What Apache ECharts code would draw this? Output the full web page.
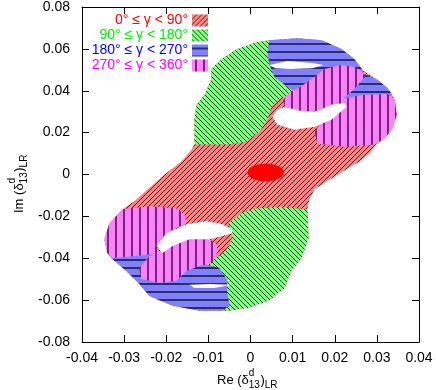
<!DOCTYPE html>
<html lang="en">
<head>
    <meta charset="UTF-8">
    <title>delta13 LR</title>
    <script src="https://cdn.jsdelivr.net/npm/echarts@6/dist/echarts.min.js"></script>
    <style>
        html, body { margin: 0; padding: 0; background: #fff; }
    </style>
</head>
<body>
    <div id="pic1" style="width:436px;height:390px;"></div>
    <script>
        // axis ranges (ticks every 0.01 / 0.02)
        var xRange = [-0.04, 0.04];
        var yRange = [-0.08, 0.08];
        var xStep = 0.01;
        var yStep = 0.02;

        var legendLabels = ['0° ≤ γ < 90°', '90° ≤ γ < 180°', '180° ≤ γ < 270°', '270° ≤ γ < 360°'];

        // region outlines, [Re, Im]
        var redBase = [[0.0014,0.0632],[0.0045,0.0641],[0.0112,0.0651],[0.0169,0.0641],[0.0216,0.0599],[0.0247,0.0551],
            [0.0266,0.0499],[0.0302,0.0451],[0.0325,0.0413],[0.0342,0.0361],[0.0347,0.0285],[0.0337,0.0219],[0.0318,0.0171],
            [0.0299,0.0147],[0.0283,0.0100],[0.0259,0.0062],[0.0219,0.0014],[0.0181,-0.0033],[0.0152,-0.0071],[0.0140,-0.0119],
            [0.0135,-0.0166],[0.0138,-0.0304],[0.0121,-0.0399],[0.0097,-0.0461],[0.0081,-0.0542],[0.0043,-0.0603],[-0.0005,-0.0637],
            [-0.0052,-0.0651],[-0.0121,-0.0651],[-0.0185,-0.0627],[-0.0240,-0.0580],[-0.0264,-0.0523],[-0.0295,-0.0461],
            [-0.0328,-0.0404],[-0.0340,-0.0375],[-0.0347,-0.0309],[-0.0335,-0.0233],[-0.0304,-0.0166],[-0.0276,-0.0128],
            [-0.0242,-0.0067],[-0.0204,0],[-0.0164,0.0062],[-0.0140,0.0119],[-0.0133,0.0143],[-0.0133,0.0266],[-0.0128,0.0333],
            [-0.0109,0.0380],[-0.0093,0.0456],[-0.0093,0.0504],[-0.0069,0.0551],[-0.0031,0.0599]];
        var greenUpper = [[-0.0133,0.0143],[-0.0133,0.0266],[-0.0128,0.0333],[-0.0109,0.0380],[-0.0093,0.0456],[-0.0093,0.0504],
            [-0.0069,0.0551],[-0.0031,0.0599],[0.0014,0.0632],[0.0045,0.0641],[0.0040,0.0584],[0.0045,0.0523],[0.0057,0.0466],
            [0.0088,0.0418],[0.0105,0.0394],[0.0069,0.0361],[0.0050,0.0323],[0.0040,0.0261],[0.0021,0.0204],[-0.0010,0.0157],
            [-0.0050,0.0143]];
        var blueUpper = [[0.0045,0.0641],[0.0112,0.0651],[0.0169,0.0641],[0.0216,0.0599],[0.0247,0.0551],[0.0266,0.0499],
            [0.0266,0.0466],[0.0211,0.0442],[0.0112,0.0394],[0.0088,0.0418],[0.0057,0.0466],[0.0045,0.0523],[0.0040,0.0584]];
        var blueRight = [[0.0219,0.0480],[0.0271,0.0480],[0.0302,0.0451],[0.0325,0.0413],[0.0337,0.0380],[0.0306,0.0371],
            [0.0264,0.0375],[0.0219,0.0352]];
        var magentaUpper = [[0.0093,0.0394],[0.0112,0.0409],[0.0145,0.0456],[0.0176,0.0504],[0.0216,0.0523],[0.0247,0.0513],
            [0.0266,0.0489],[0.0271,0.0466],[0.0247,0.0409],[0.0219,0.0361],[0.0223,0.0337],[0.0192,0.0333],[0.0152,0.0299],
            [0.0116,0.0304],[0.0081,0.0323],[0.0078,0.0356]];
        var magentaRight = [[0.0219,0.0361],[0.0264,0.0380],[0.0325,0.0385],[0.0342,0.0361],[0.0347,0.0285],[0.0337,0.0219],
            [0.0318,0.0171],[0.0295,0.0143],[0.0223,0.0133],[0.0159,0.0147],[0.0152,0.0204],[0.0169,0.0252],[0.0200,0.0299]];
        var holeSlitUpper = [[0.0045,0.0523],[0.0088,0.0542],[0.0147,0.0532],[0.0173,0.0523],[0.0147,0.0508],[0.0093,0.0504],
            [0.0059,0.0508]];
        var holeUpper = [[0.0052,0.0276],[0.0064,0.0309],[0.0081,0.0323],[0.0116,0.0304],[0.0152,0.0299],[0.0192,0.0333],
            [0.0223,0.0342],[0.0228,0.0323],[0.0192,0.0261],[0.0152,0.0228],[0.0105,0.0214],[0.0064,0.0238]];
        var greenLower = [[-0.0052,-0.0233],[-0.0021,-0.0185],[0.0010,-0.0162],[0.0069,-0.0157],[0.0135,-0.0166],[0.0138,-0.0304],
            [0.0121,-0.0399],[0.0097,-0.0461],[0.0081,-0.0542],[0.0043,-0.0603],[-0.0005,-0.0637],[-0.0052,-0.0651],
            [-0.0067,-0.0651],[-0.0050,-0.0627],[-0.0055,-0.0565],[-0.0057,-0.0499],[-0.0074,-0.0447],[-0.0105,-0.0428],
            [-0.0093,-0.0404],[-0.0069,-0.0385],[-0.0050,-0.0342],[-0.0043,-0.0295]];
        var blueLower = [[-0.0340,-0.0375],[-0.0280,-0.0385],[-0.0233,-0.0375],[-0.0204,-0.0375],[-0.0121,-0.0423],[-0.0074,-0.0447],
            [-0.0057,-0.0499],[-0.0055,-0.0565],[-0.0050,-0.0627],[-0.0067,-0.0651],[-0.0121,-0.0651],[-0.0185,-0.0627],
            [-0.0240,-0.0580],[-0.0264,-0.0523],[-0.0295,-0.0461],[-0.0328,-0.0404]];
        var magentaLeft = [[-0.0304,-0.0166],[-0.0240,-0.0152],[-0.0176,-0.0162],[-0.0157,-0.0190],[-0.0152,-0.0233],
            [-0.0192,-0.0271],[-0.0216,-0.0318],[-0.0223,-0.0356],[-0.0211,-0.0375],[-0.0233,-0.0380],[-0.0280,-0.0390],
            [-0.0328,-0.0399],[-0.0340,-0.0375],[-0.0347,-0.0309],[-0.0335,-0.0233]];
        var magentaLower = [[-0.0240,-0.0390],[-0.0216,-0.0366],[-0.0200,-0.0333],[-0.0152,-0.0309],[-0.0097,-0.0309],
            [-0.0081,-0.0333],[-0.0078,-0.0366],[-0.0090,-0.0423],[-0.0121,-0.0437],[-0.0152,-0.0461],[-0.0176,-0.0508],
            [-0.0216,-0.0518],[-0.0259,-0.0499],[-0.0264,-0.0447]];
        var holeLower = [[-0.0223,-0.0342],[-0.0211,-0.0309],[-0.0200,-0.0280],[-0.0152,-0.0238],[-0.0105,-0.0223],
            [-0.0067,-0.0238],[-0.0045,-0.0261],[-0.0043,-0.0280],[-0.0097,-0.0309],[-0.0145,-0.0309],[-0.0185,-0.0342],
            [-0.0209,-0.0375]];
        var holeSlitLower = [[-0.0145,-0.0527],[-0.0097,-0.0523],[-0.0045,-0.0527],[-0.0086,-0.0542],[-0.0133,-0.0542]];
        // red blob: centre and half axes
        var spotCenter = [0.0036, 0.001];
        var spotRadius = [0.0043, 0.0043];

        var FONT = '"Liberation Sans", Arial, Helvetica, sans-serif';

        // hatch fill: bg colour + thin lines, dir = up (/), down (\), h, v
        function hatch(bg, line, dir, step, lw) {
            var c = document.createElement('canvas');
            c.width = step; c.height = step;
            var g = c.getContext('2d');
            g.fillStyle = bg;
            g.fillRect(0, 0, step, step);
            g.strokeStyle = line;
            g.lineWidth = lw;
            g.beginPath();
            if (dir === 'up') {
                g.moveTo(0, step); g.lineTo(step, 0);
                g.moveTo(-1, 1); g.lineTo(1, -1);
                g.moveTo(step - 1, step + 1); g.lineTo(step + 1, step - 1);
            } else if (dir === 'down') {
                g.moveTo(0, 0); g.lineTo(step, step);
                g.moveTo(step - 1, -1); g.lineTo(step + 1, 1);
                g.moveTo(-1, step - 1); g.lineTo(1, step + 1);
            } else if (dir === 'h') {
                g.moveTo(0, step / 2); g.lineTo(step, step / 2);
            } else {
                g.moveTo(step / 2, 0); g.lineTo(step / 2, step);
            }
            g.stroke();
            return { image: c, repeat: 'repeat' };
        }

        var fillRed = hatch('#ff8282', '#3a1a1a', 'up', 5, 0.9);
        var fillGreen = hatch('#80ff80', '#103010', 'down', 5, 0.9);
        var fillBlue = hatch('#8080ff', '#101040', 'h', 8, 1.5);
        var fillMagenta = hatch('#ff80ff', '#401040', 'v', 8, 1.5);
        var legendFills = [fillRed, fillGreen, fillBlue, fillMagenta];
        var legendColors = ['#ff0000', '#00ee00', '#0000ff', '#ff00ff'];

        function region(name, pts, fill, z) {
            return {
                type: 'custom',
                name: name,
                coordinateSystem: 'cartesian2d',
                silent: true,
                z: z,
                data: pts,
                renderItem: function (params, api) {
                    if (params.dataIndex !== 0) return null;
                    return {
                        type: 'polygon',
                        shape: { points: pts.map(function (p) { return api.coord(p); }) },
                        style: { fill: fill }
                    };
                }
            };
        }

        var series = [
            region('red', redBase, fillRed, 2),
            region('green up', greenUpper, fillGreen, 3),
            region('green low', greenLower, fillGreen, 3),
            region('blue up', blueUpper, fillBlue, 4),
            region('blue right', blueRight, fillBlue, 4),
            region('blue low', blueLower, fillBlue, 4),
            region('slit up', holeSlitUpper, '#ffffff', 5),
            region('slit low', holeSlitLower, '#ffffff', 5),
            region('magenta up', magentaUpper, fillMagenta, 6),
            region('magenta right', magentaRight, fillMagenta, 6),
            region('magenta left', magentaLeft, fillMagenta, 6),
            region('magenta low', magentaLower, fillMagenta, 6),
            region('hole up', holeUpper, '#ffffff', 7),
            region('hole low', holeLower, '#ffffff', 7),
            {
                type: 'custom',
                name: 'spot',
                coordinateSystem: 'cartesian2d',
                silent: true,
                z: 8,
                data: [spotCenter],
                renderItem: function (params, api) {
                    var c = api.coord(spotCenter);
                    var s = api.size(spotRadius);
                    return {
                        type: 'circle',
                        x: c[0], y: c[1],
                        scaleY: s[1] / s[0],
                        shape: { cx: 0, cy: 0, r: s[0] },
                        style: { fill: '#ff0000' }
                    };
                }
            }
        ];

        function axisCommon(range, step, pos, showLabel, margin) {
            return {
                type: 'value',
                position: pos,
                min: range[0],
                max: range[1],
                interval: step,
                axisLine: { show: true, onZero: false, lineStyle: { color: '#000', width: 1 } },
                axisTick: { show: true, inside: true, length: 7, lineStyle: { color: '#000', width: 1 } },
                axisLabel: { show: showLabel, color: '#000', fontSize: 14, fontFamily: FONT, margin: margin },
                splitLine: { show: false }
            };
        }

        // legend (text right aligned, hatched sample box)
        var graphics = [];
        legendLabels.forEach(function (t, i) {
            var cy = 20.5 + i * 15;
            graphics.push({
                type: 'text', x: 188, y: cy, z: 20,
                style: { text: t, font: '14px ' + FONT, fill: legendColors[i], align: 'right', verticalAlign: 'middle' }
            });
            graphics.push({
                type: 'rect', x: 192, y: cy - 6, z: 20,
                shape: { width: 16, height: 12 },
                style: { fill: legendFills[i] }
            });
        });

        // axis title: "<first>δ" with stacked d / 13, then ")" and subscript LR
        var measureCtx = document.createElement('canvas').getContext('2d');
        function textW(s, font) {
            measureCtx.font = font;
            return measureCtx.measureText(s).width;
        }
        function titleParts(first) {
            var f = '13px ' + FONT, fs = '10px ' + FONT;
            var x0 = textW(first, f);
            var x1 = x0 + textW('δ', f);
            var x2 = x1 + Math.max(textW('d', fs), textW('13', fs)) + 0.5;
            var x3 = x2 + textW(')', f);
            function t(s, x, y, font) {
                return { type: 'text', x: x, y: y, style: { text: s, font: font, fill: '#000', verticalAlign: 'middle' } };
            }
            return [
                t(first, 0, 0, f),
                t('δ', x0, 0, f),
                t('d', x1, -7, fs),
                t('13', x1, 5, fs),
                t(')', x2, 0, f),
                t('LR', x3, 5, fs)
            ];
        }
        graphics.push({ type: 'group', x: 217, y: 380, children: titleParts('Re (') });
        graphics.push({ type: 'group', x: 19, y: 213, rotation: Math.PI / 2, children: titleParts('Im (') });

        var myChart = echarts.init(document.getElementById('pic1'));
        myChart.setOption({
            animation: false,
            backgroundColor: '#ffffff',
            grid: { left: 82, right: 17, top: 5, bottom: 48 },
            xAxis: [
                axisCommon(xRange, xStep, 'bottom', true, 9),
                axisCommon(xRange, xStep, 'top', false, 8)
            ],
            yAxis: [
                axisCommon(yRange, yStep, 'left', true, 12),
                axisCommon(yRange, yStep, 'right', false, 8)
            ],
            graphic: graphics,
            series: series
        });
    </script>
</body>
</html>
